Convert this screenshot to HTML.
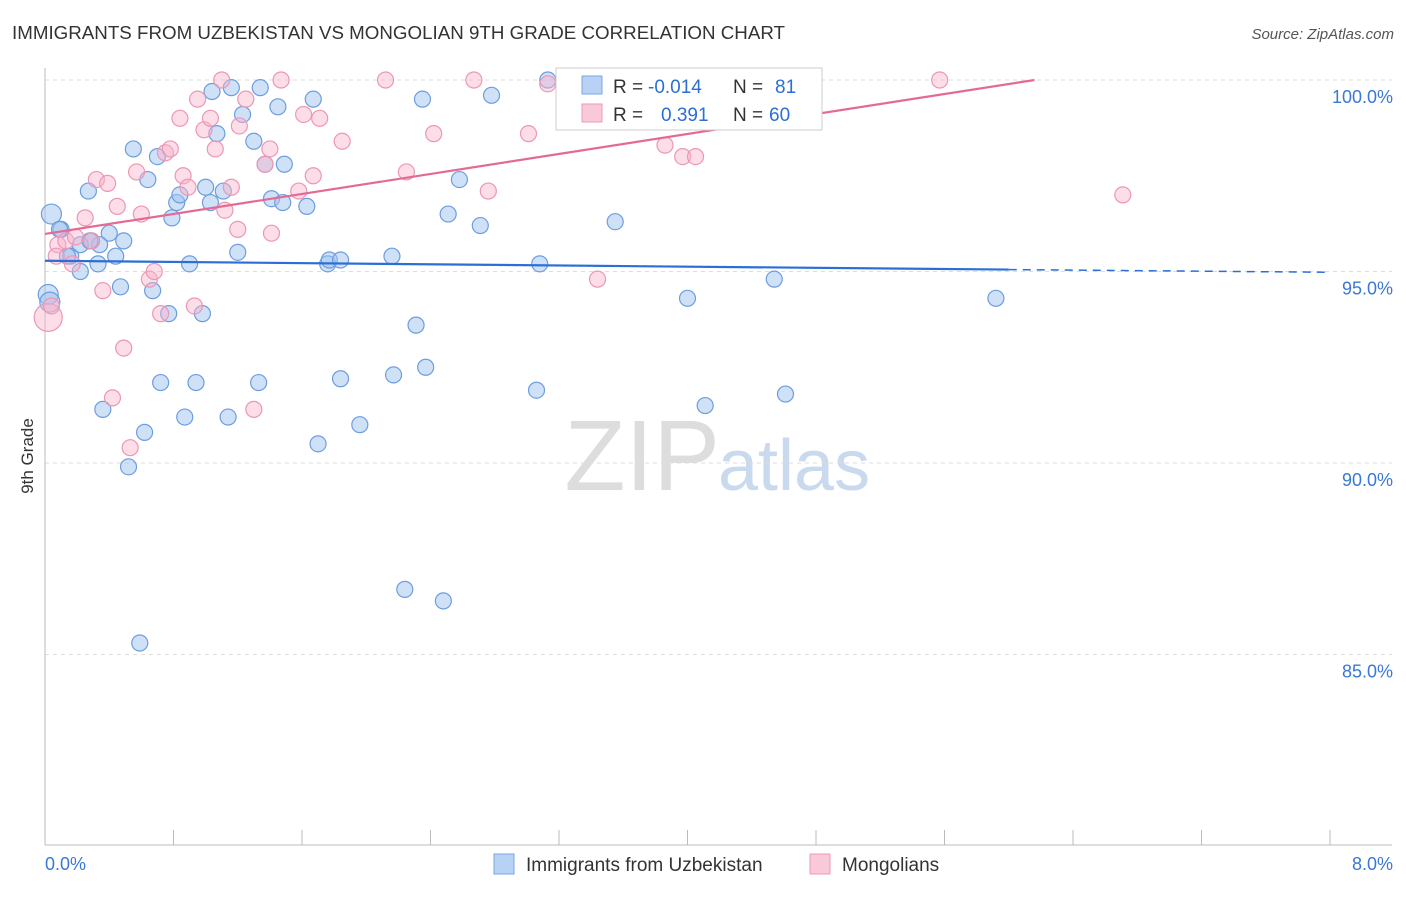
<!DOCTYPE html>
<html><head><meta charset="utf-8"><style>
body{margin:0;background:#fff;font-family:"Liberation Sans",sans-serif;}
svg text{font-family:"Liberation Sans",sans-serif;}
</style></head><body>
<svg id="c" width="1406" height="892">
<text x="12" y="39" font-size="18" fill="#333" textLength="773" lengthAdjust="spacingAndGlyphs">IMMIGRANTS FROM UZBEKISTAN VS MONGOLIAN 9TH GRADE CORRELATION CHART</text>
<text x="1394" y="39" font-size="15" fill="#555" font-style="italic" text-anchor="end">Source: ZipAtlas.com</text>
<text x="33" y="456" font-size="17" fill="#333" transform="rotate(-90 33 456)" text-anchor="middle">9th Grade</text>
<text x="720" y="490" font-size="100" fill="#ddd" text-anchor="end" font-family="Liberation Serif">ZIP</text>
<text x="718" y="490" font-size="72" fill="#c9d9ee">atlas</text>
<g id="grid"></g><g id="pts"></g><g id="trend"></g>
<g>
<rect x="556" y="68" width="266" height="62" fill="#fff" stroke="#ccc"/>
<rect x="582" y="76" width="20" height="18" fill="#b8d2f5" stroke="#7aa6e0"/>
<rect x="582" y="104" width="20" height="18" fill="#fac9d9" stroke="#ee9ab5"/>
<text x="613" y="93" font-size="19" fill="#333">R =</text>
<text x="648" y="93" font-size="19" fill="#2b6fd6">-0.014</text>
<text x="733" y="93" font-size="19" fill="#333">N =</text>
<text x="775" y="93" font-size="19" fill="#2b6fd6">81</text>
<text x="613" y="121" font-size="19" fill="#333">R =</text>
<text x="661" y="121" font-size="19" fill="#2b6fd6">0.391</text>
<text x="733" y="121" font-size="19" fill="#333">N =</text>
<text x="769" y="121" font-size="19" fill="#2b6fd6">60</text>
</g>
<g>
<rect x="494" y="854" width="20" height="20" fill="#b8d2f5" stroke="#7aa6e0"/>
<text x="526" y="871" font-size="19" fill="#333">Immigrants from Uzbekistan</text>
<rect x="810" y="854" width="20" height="20" fill="#fac9d9" stroke="#ee9ab5"/>
<text x="842" y="871" font-size="19" fill="#333">Mongolians</text>
</g>
</svg>
<script>
const yTicks=[100,95,90,85];
const xTickLabels=["0.0%","8.0%"];
const blueX=[0.04,0.02,0.03,0.1,0.16,0.22,0.27,0.29,0.33,0.36,0.4,0.44,0.47,0.49,0.52,0.55,0.62,0.64,0.67,0.7,0.72,0.77,0.79,0.82,0.84,0.87,0.9,0.94,0.98,1.0,1.03,1.04,1.07,1.11,1.14,1.16,1.2,1.23,1.3,1.33,1.34,1.37,1.41,1.45,1.48,1.49,1.63,1.67,1.7,1.76,1.77,1.84,1.84,1.96,2.16,2.17,2.24,2.31,2.35,2.37,2.48,2.51,2.58,2.71,2.78,3.06,3.08,3.13,3.27,3.55,4.0,4.11,4.54,4.61,5.92,0.59,0.34,0.22,0.14,0.09,0.28];
const blueY=[96.5,94.4,94.2,96.1,95.4,95.0,97.1,95.8,95.2,91.4,96.0,95.4,94.6,95.8,89.9,98.2,90.8,97.4,94.5,98.0,92.1,93.9,96.4,96.8,97.0,91.2,95.2,92.1,93.9,97.2,96.8,99.7,98.6,97.1,91.2,99.8,95.5,99.1,98.4,92.1,99.8,97.8,96.9,99.3,96.8,97.8,96.7,99.5,90.5,95.2,95.3,95.3,92.2,91.0,95.4,92.3,86.7,93.6,99.5,92.5,86.4,96.5,97.4,96.2,99.6,91.9,95.2,100.0,100.0,96.3,94.3,91.5,94.8,91.8,94.3,85.3,95.7,95.7,95.4,96.1,95.8];
const pinkX=[0.02,0.04,0.08,0.13,0.17,0.19,0.25,0.32,0.36,0.39,0.42,0.45,0.49,0.53,0.57,0.6,0.65,0.68,0.72,0.75,0.78,0.84,0.86,0.89,0.93,0.95,0.99,1.03,1.06,1.1,1.12,1.16,1.2,1.21,1.25,1.3,1.37,1.4,1.41,1.47,1.58,1.61,1.67,1.71,1.85,2.12,2.25,2.42,2.67,2.76,3.01,3.13,3.44,3.86,3.97,4.05,5.57,6.71,0.29,0.07];
const pinkY=[93.8,94.1,95.7,95.8,95.2,95.9,96.4,97.4,94.5,97.3,91.7,96.7,93.0,90.4,97.6,96.5,94.8,95.0,93.9,98.1,98.2,99.0,97.5,97.2,94.1,99.5,98.7,99.0,98.2,100.0,96.6,97.2,96.1,98.8,99.5,91.4,97.8,98.2,96.0,100.0,97.1,99.1,97.5,99.0,98.4,100.0,97.6,98.6,100.0,97.1,98.6,99.9,94.8,98.3,98.0,98.0,100.0,97.0,95.8,95.4];
const X=v=>45+v/8*1285, Y=v=>80+(100-v)*38.3;
const NS="http://www.w3.org/2000/svg";
function mk(p,t,a){const e=document.createElementNS(NS,t);for(const k in a)e.setAttribute(k,a[k]);p.appendChild(e);return e;}
const g=document.getElementById('grid');
yTicks.forEach(t=>{
 const l=mk(g,'line',{x1:45,x2:1392,y1:Y(t),y2:Y(t),stroke:'#ddd','stroke-dasharray':'4,4'});
 
 
 const tx=mk(g,'text',{x:1393,y:Y(t)+23,'font-size':18,fill:'#3a78d6','text-anchor':'end'});
 tx.textContent=t.toFixed(1)+'%';
 
 
});
const ax=mk(g,'line',{x1:45,x2:45,y1:68,y2:845,stroke:'#bbb'});


const bx=mk(g,'line',{x1:45,x2:1392,y1:845,y2:845,stroke:'#bbb'});


for(let i=0;i<=10;i++){const t=mk(g,'line',{x1:X(i*0.8),x2:X(i*0.8),y1:830,y2:845,stroke:'#bbb'});
 
 }
xTickLabels.forEach((s,i)=>{const t=mk(g,'text',{x:i?1393:45,y:870,'font-size':18,fill:'#3a78d6','text-anchor':i?'end':'start'});t.textContent=s;
 
 });
const pg=document.getElementById('pts');
blueX.forEach((x,i)=>{const c=mk(pg,'circle',{cx:X(x),cy:Y(blueY[i]),r:i<3?10:8,fill:'rgba(160,195,240,0.5)',stroke:'#6d9de0','stroke-width':1.2});
 
 });
pinkX.forEach((x,i)=>{const c=mk(pg,'circle',{cx:X(x),cy:Y(pinkY[i]),r:i==0?14:8,fill:'rgba(248,180,205,0.45)',stroke:'#ec97b4','stroke-width':1.2});
 
 });
const tg=document.getElementById('trend');
const b=mk(tg,'line',{x1:X(0),y1:Y(95.28),x2:X(6.0),y2:Y(95.05),stroke:'#2b6fd6','stroke-width':2.2});


const bd=mk(tg,'line',{x1:X(6.0),y1:Y(95.05),x2:X(8),y2:Y(94.98),stroke:'#2b6fd6','stroke-width':1.5,'stroke-dasharray':'8,6'});


const p=mk(tg,'line',{x1:X(0),y1:Y(95.98),x2:X(6.16),y2:Y(100),stroke:'#e56a93','stroke-width':2.2});


</script>
</body></html>
